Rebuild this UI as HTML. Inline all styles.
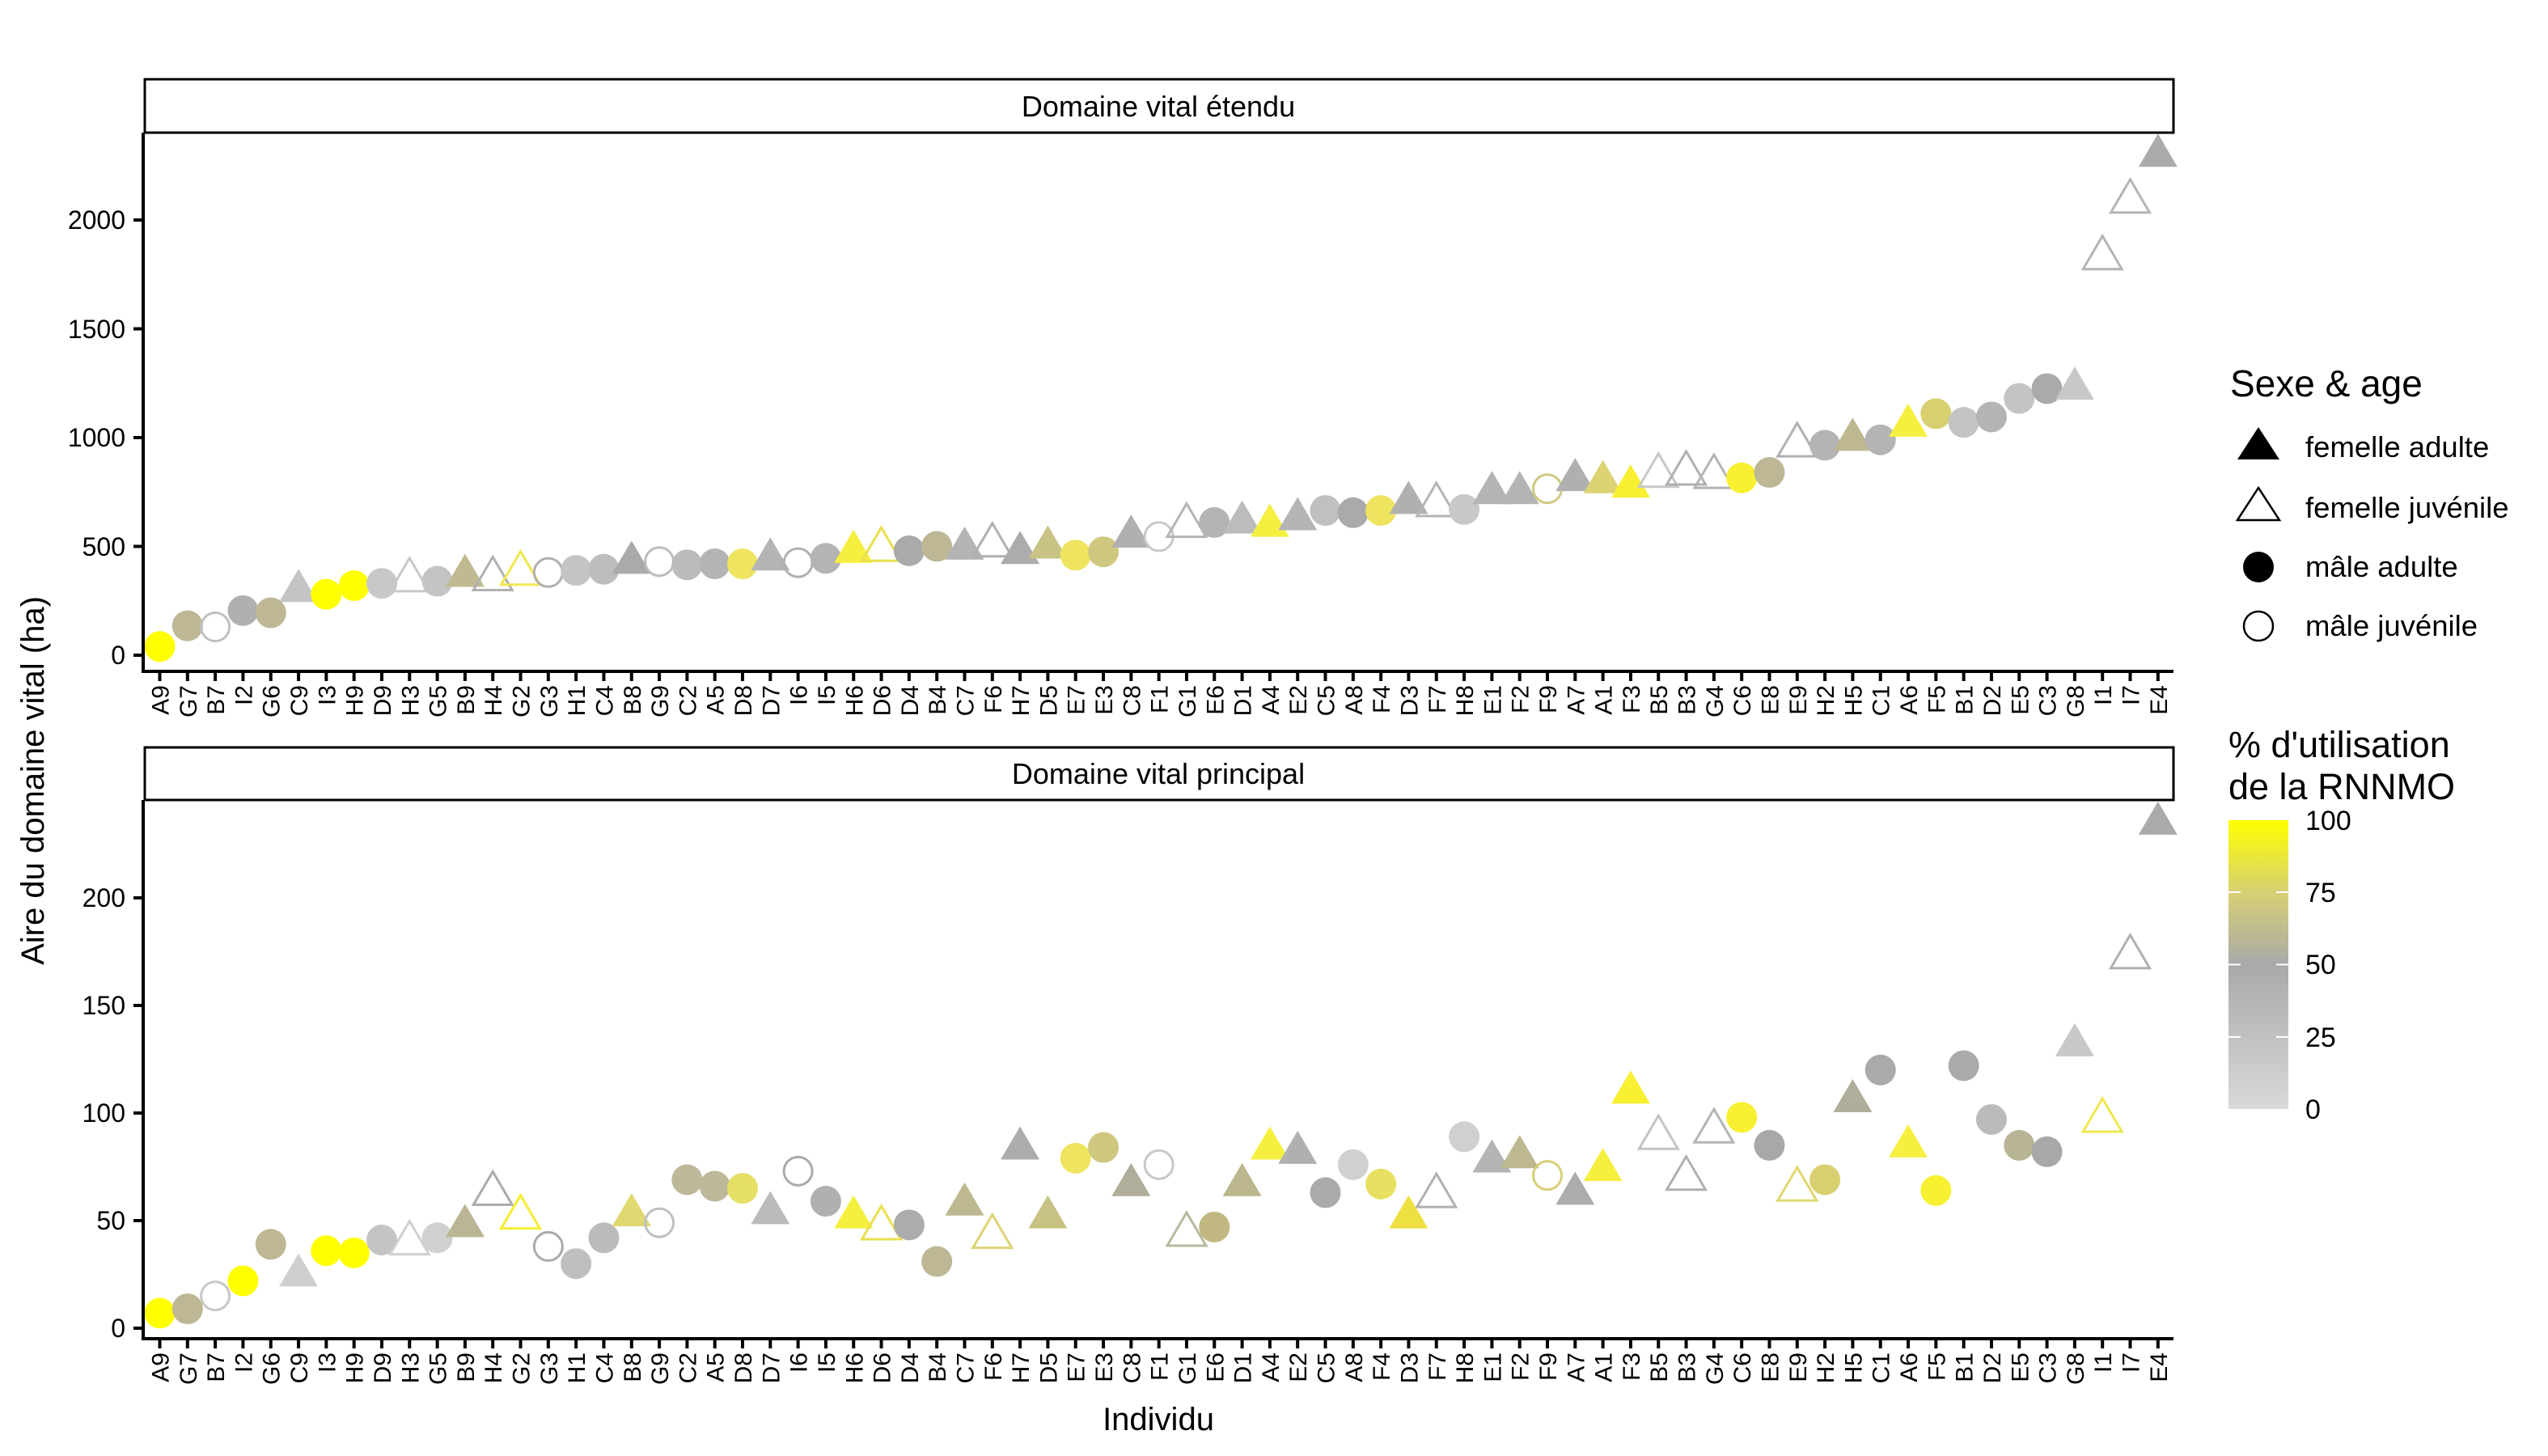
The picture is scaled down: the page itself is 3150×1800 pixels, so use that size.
<!DOCTYPE html>
<html><head><meta charset="utf-8"><style>
html,body{margin:0;padding:0;background:#fff;}
svg{display:block;font-family:"Liberation Sans",Arial,sans-serif;}
</style></head><body>
<svg id="s" width="3150" height="1800" viewBox="0 0 3150 1800" xmlns="http://www.w3.org/2000/svg">
<defs>
<linearGradient id="cb" x1="0" y1="1" x2="0" y2="0">
<stop offset="0" stop-color="#d9d9d9"/>
<stop offset="0.5" stop-color="#a9a9a9"/>
<stop offset="0.75" stop-color="#d6d074"/>
<stop offset="1" stop-color="#ffff00"/>
</linearGradient>
</defs>
<rect x="179" y="98" width="2508" height="66" fill="#fff" stroke="#000" stroke-width="3"/>
<text x="1432" y="144" font-size="36" text-anchor="middle">Domaine vital étendu</text>
<rect x="179" y="924" width="2508" height="65" fill="#fff" stroke="#000" stroke-width="3"/>
<text x="1432" y="969" font-size="36" text-anchor="middle">Domaine vital principal</text>
<g id="plots"></g>
<line x1="177" y1="164" x2="177" y2="832" stroke="#000" stroke-width="4"/>
<line x1="175" y1="830" x2="2687" y2="830" stroke="#000" stroke-width="4"/>
<line x1="177" y1="989" x2="177" y2="1657" stroke="#000" stroke-width="4"/>
<line x1="175" y1="1655" x2="2687" y2="1655" stroke="#000" stroke-width="4"/>
<g font-size="32" text-anchor="end">
<text x="155" y="821">0</text><text x="155" y="687">500</text><text x="155" y="552">1000</text><text x="155" y="418">1500</text><text x="155" y="283">2000</text>
<text x="155" y="1653">0</text><text x="155" y="1520">50</text><text x="155" y="1387">100</text><text x="155" y="1254">150</text><text x="155" y="1121">200</text>
</g>
<g stroke="#000" stroke-width="4">
<line x1="165" y1="810" x2="177" y2="810"/><line x1="165" y1="675.5" x2="177" y2="675.5"/><line x1="165" y1="541" x2="177" y2="541"/><line x1="165" y1="406.5" x2="177" y2="406.5"/><line x1="165" y1="272" x2="177" y2="272"/>
<line x1="165" y1="1642" x2="177" y2="1642"/><line x1="165" y1="1509" x2="177" y2="1509"/><line x1="165" y1="1376" x2="177" y2="1376"/><line x1="165" y1="1243" x2="177" y2="1243"/><line x1="165" y1="1110" x2="177" y2="1110"/>
</g>
<text transform="translate(54,965) rotate(-90)" font-size="40" text-anchor="middle">Aire du domaine vital (ha)</text>
<text x="1432" y="1768" font-size="40" text-anchor="middle">Individu</text>
<text x="2757" y="490" font-size="46">Sexe &amp; age</text>
<polygon points="2792,528 2766,568 2818,568" fill="#000"/>
<polygon points="2792,603 2766,643 2818,643" fill="none" stroke="#000" stroke-width="2.5"/>
<circle cx="2792" cy="701" r="19" fill="#000"/>
<circle cx="2792" cy="774" r="18" fill="none" stroke="#000" stroke-width="2.5"/>
<g font-size="36.5"><text x="2850" y="565">femelle adulte</text><text x="2850" y="640">femelle juvénile</text><text x="2850" y="713">mâle adulte</text><text x="2850" y="786">mâle juvénile</text></g>
<text x="2755" y="936" font-size="45">% d'utilisation</text>
<text x="2755" y="988" font-size="45">de la RNNMO</text>
<rect x="2755" y="1014" width="74" height="357" fill="url(#cb)"/>
<g stroke="#fff" stroke-width="2">
<line x1="2755" y1="1103" x2="2770" y2="1103"/><line x1="2814" y1="1103" x2="2829" y2="1103"/>
<line x1="2755" y1="1192.5" x2="2770" y2="1192.5"/><line x1="2814" y1="1192.5" x2="2829" y2="1192.5"/>
<line x1="2755" y1="1282" x2="2770" y2="1282"/><line x1="2814" y1="1282" x2="2829" y2="1282"/>
</g>
<g font-size="34"><text x="2850" y="1026">100</text><text x="2850" y="1115">75</text><text x="2850" y="1204">50</text><text x="2850" y="1294">25</text><text x="2850" y="1383">0</text></g>
</svg>
<script>
var names="A9 G7 B7 I2 G6 C9 I3 H9 D9 H3 G5 B9 H4 G2 G3 H1 C4 B8 G9 C2 A5 D8 D7 I6 I5 H6 D6 D4 B4 C7 F6 H7 D5 E7 E3 C8 F1 G1 E6 D1 A4 E2 C5 A8 F4 D3 F7 H8 E1 F2 F9 A7 A1 F3 B5 B3 G4 C6 E8 E9 H2 H5 C1 A6 F5 B1 D2 E5 C3 G8 I1 I7 E4".split(" ");
var typ="c c C c c t c c c T c t T T C c c t C c c c t C c t T c c t T t t c c t C T c t t t c c c t T c t t C t t t T T T c c T c t c t c c c c c t T T t".split(" ");
var col=["#ffff00","#bdb795","#c8c8c8","#ffff00","#bdb795","#cfcfcf","#ffff00","#ffff00","#c4c4c4","#d0d0d0","#d0d0d0","#bab594","#ababab","#f5ee30","#aaaaaa","#bfbfbf","#bbbbbb","#e0d870","#c0c0c0","#bdb89a","#bdb89a","#e6df66","#bbbbbb","#aaaaaa","#b0b0b0","#f5f040","#e8e050","#acacac","#bdb795","#bdb890","#dcd474","#acacac","#c8c384","#eee460","#d0c880","#b0ae9a","#c8c8c8","#b8b8a0","#c0b880","#bcb68e","#f5f040","#b0b0b0","#aaaaaa","#d0d0d0","#e8e060","#eee040","#b0b0b0","#d0d0d0","#b4b4b4","#bdb890","#d8cf78","#acacac","#f5f040","#f8f030","#c4c4c4","#b0b0b0","#b4b4b4","#f8f030","#a8a8a8","#e0d870","#d8d070","#b0ae9a","#aaaaaa","#f5f040","#f8f030","#aaaaaa","#bbbbbb","#b8b496","#a8a8a8","#c8c8c8","#f0e850","#b0b0b0","#aaaaaa"];
var colT=["#ffff00","#bdb795","#c0c0c0","#b0b0b0","#bdb795","#c4c4c4","#ffff00","#ffff00","#c8c8c8","#c8c8c8","#c4c4c4","#c0ba90","#b0b0b0","#f0e850","#b0b0b0","#c4c4c4","#bdbdbd","#aaaaaa","#bcbcbc","#bbbbbb","#b4b4b4","#eee460","#b4b4b4","#b0b0b0","#b4b4b4","#f5f040","#e8e050","#aaaaaa","#bdb795","#b4b4b4","#b0b0b0","#acacac","#c8c384","#eee460","#d0c880","#b0b0b0","#c8c8c8","#b4b4b4","#b4b4b4","#bcbcbc","#f5f040","#b4b4b4","#c0c0c0","#aaaaaa","#eee460","#b0b0b0","#b4b4b4","#c8c8c8","#b4b4b4","#b4b4b4","#d0c880","#b0b0b0","#dcd474","#f8f030","#c8c8c8","#b0b0b0","#b4b4b4","#f8f030","#bdb795","#b0b0b0","#b4b4b4","#bdb890","#b4b4b4","#f5f040","#d8d070","#c4c4c4","#b4b4b4","#c4c4c4","#aaaaaa","#c8c8c8","#b4b4b4","#b4b4b4","#aaaaaa"];
var topv=[40,135,130,205,195,300,280,320,330,350,340,370,355,380,380,390,395,430,430,415,420,420,445,425,445,480,490,480,500,495,510,475,500,460,475,550,545,600,610,615,600,630,665,655,665,705,695,670,750,750,765,810,800,780,830,840,825,815,840,970,965,995,990,1060,1110,1070,1095,1180,1225,1230,1830,2090,2300];
var botv=[7,9,15,22,39,25,36,35,41,40,42,48,63,52,38,30,42,53,49,69,66,65,54,73,59,52,47,48,31,58,43,84,52,79,84,67,76,44,47,67,84,82,63,76,67,52,62,89,78,80,71,63,74,110,89,70,92,98,85,65,69,106,120,85,64,122,97,85,82,132,97,173,235];
var out="";
function mk(x,y,t,c){
 if(t=="c") return '<circle cx="'+x+'" cy="'+y+'" r="19" fill="'+c+'"/>';
 if(t=="C") return '<circle cx="'+x+'" cy="'+y+'" r="17.5" fill="none" stroke="'+c+'" stroke-width="3"/>';
 var p=(x)+','+(y-26)+' '+(x-24)+','+(y+15)+' '+(x+24)+','+(y+15);
 if(t=="t") return '<polygon points="'+p+'" fill="'+c+'"/>';
 return '<polygon points="'+p+'" fill="none" stroke="'+c+'" stroke-width="3"/>';
}
for(var i=0;i<73;i++){
 var x=197.5+i*34.31;
 out+=mk(x,810-topv[i]*0.269,typ[i],colT[i]);
 out+=mk(x,1642-botv[i]*2.66,typ[i],col[i]);
 out+='<line x1="'+x+'" y1="830" x2="'+x+'" y2="842" stroke="#000" stroke-width="4"/>';
 out+='<line x1="'+x+'" y1="1655" x2="'+x+'" y2="1667" stroke="#000" stroke-width="4"/>';
 out+='<text transform="translate('+(x+11)+',847) rotate(-90)" font-size="30" text-anchor="end">'+names[i]+'</text>';
 out+='<text transform="translate('+(x+11)+',1672) rotate(-90)" font-size="30" text-anchor="end">'+names[i]+'</text>';
}
document.getElementById("plots").innerHTML=out;
</script>
</body></html>
